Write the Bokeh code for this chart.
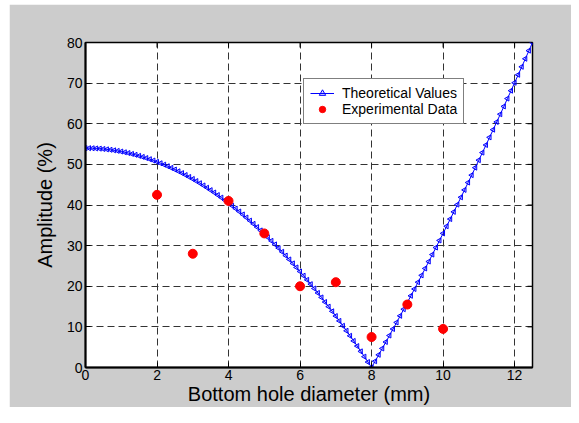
import numpy as np
from bokeh.plotting import figure
from bokeh.models import Range1d, FixedTicker, Legend, LegendItem, Spacer
from bokeh.layouts import column, row
from bokeh.embed import file_html
from bokeh.resources import INLINE

# Theoretical curve, sampled every 0.1 mm from 0 to 12.5 mm
theory_x = np.round(np.arange(0, 126) * 0.1, 1).tolist()
theory_y = [
    54.00, 53.99, 53.97, 53.92, 53.87, 53.79, 53.70, 53.59, 53.46, 53.32,
    53.16, 52.98, 52.79, 52.57, 52.35, 52.10, 51.84, 51.56, 51.27, 50.95,
    50.63, 50.28, 49.92, 49.54, 49.14, 48.73, 48.30, 47.85, 47.38, 46.90,
    46.41, 45.89, 45.36, 44.81, 44.25, 43.66, 43.07, 42.45, 41.82, 41.17,
    40.50, 39.82, 39.12, 38.40, 37.67, 36.91, 36.15, 35.36, 34.56, 33.74,
    32.91, 32.05, 31.18, 30.30, 29.40, 28.48, 27.54, 26.59, 25.62, 24.63,
    23.63, 22.60, 21.57, 20.51, 19.44, 18.35, 17.25, 16.12, 14.98, 13.83,
    12.66, 11.47, 10.26, 9.04, 7.80, 6.54, 5.27, 3.97, 2.67, 1.34,
    0.00, 1.55, 3.12, 4.69, 6.28, 7.87, 9.48, 11.09, 12.72, 14.35,
    16.00, 17.65, 19.32, 21.00, 22.68, 24.38, 26.08, 27.80, 29.53, 31.27,
    33.01, 34.77, 36.54, 38.31, 40.10, 41.90, 43.71, 45.53, 47.35, 49.19,
    51.04, 52.90, 54.77, 56.65, 58.54, 60.44, 62.35, 64.27, 66.20, 68.14,
    70.09, 72.05, 74.02, 76.00, 77.99, 80.00,
]

# Experimental data
exp_x = [2, 3, 4, 5, 6, 7, 8, 9, 10]
exp_y = [42.5, 28.0, 41.0, 33.0, 20.0, 21.0, 7.5, 15.5, 9.5]

x_ticks = [0, 2, 4, 6, 8, 10, 12]
y_ticks = [0, 10, 20, 30, 40, 50, 60, 70, 80]
X_MAX, Y_MAX = 12.5, 80

FONT = "Liberation Sans"
W, H = 562, 403

p = figure(width=W, height=H, output_backend="svg", toolbar_location=None,
           x_range=Range1d(0, X_MAX), y_range=Range1d(0, Y_MAX),
           min_border_left=76, min_border_top=38, min_border_right=39, min_border_bottom=32,
           border_fill_color="#cccccc", background_fill_color="white",
           outline_line_color="black", outline_line_width=1.5)

p.xaxis.axis_label = "Bottom hole diameter (mm)"
p.yaxis.axis_label = "Amplitude (%)"

for ax in [p.xaxis[0], p.yaxis[0]]:
    ax.axis_label_text_font = FONT
    ax.axis_label_text_font_size = "20px"
    ax.axis_label_text_font_style = "normal"
    ax.axis_label_text_color = "black"
    ax.major_label_text_font = FONT
    ax.major_label_text_font_size = "14px"
    ax.major_label_text_color = "black"
    ax.axis_line_color = "black"
    ax.axis_line_width = 2
    ax.major_tick_in = 5
    ax.major_tick_out = 0
    ax.minor_tick_line_color = None
    ax.major_tick_line_color = "black"

p.xaxis.ticker = FixedTicker(ticks=x_ticks)
p.yaxis.ticker = FixedTicker(ticks=y_ticks)
p.xaxis.major_label_standoff = 2
p.xaxis.axis_label_standoff = 0
p.yaxis.major_label_standoff = 3
p.yaxis.axis_label_standoff = 8

p.xgrid.ticker = FixedTicker(ticks=x_ticks)
p.ygrid.ticker = FixedTicker(ticks=y_ticks)
for g in [p.xgrid[0], p.ygrid[0]]:
    g.grid_line_color = "#333333"
    g.grid_line_dash = "7 4"
    g.grid_line_width = 1

# inward ticks on the top and right edges of the box (clipped to the frame)
p.scatter(x_ticks, [Y_MAX] * len(x_ticks), marker="dash", angle=np.pi / 2, size=10,
          line_color="black", line_width=1)
p.scatter([X_MAX] * len(y_ticks), y_ticks, marker="dash", size=10,
          line_color="black", line_width=1)

ln = p.line(theory_x, theory_y, line_color="#0000ff", line_width=1)
mk = p.scatter(theory_x, theory_y, marker="triangle", angle=np.pi / 2, size=5,
               line_color="#0000ff", fill_color="#0000ff", fill_alpha=0.15, line_width=1)
ex = p.scatter(exp_x, exp_y, marker="circle", size=9, line_color="#ff0000",
               fill_color="#ff0000")

legend = Legend(items=[LegendItem(label="Theoretical Values", renderers=[ln, mk]),
                       LegendItem(label="Experimental Data", renderers=[ex])],
                location=(218, 243), label_text_font=FONT, label_text_font_size="14px",
                label_text_color="black", border_line_color="black", border_line_width=1,
                background_fill_color="white", background_fill_alpha=1,
                padding=6, spacing=0, margin=0, glyph_width=24, glyph_height=16,
                label_height=16, label_standoff=8)
p.add_layout(legend, "center")

layout = column(Spacer(height=4), row(Spacer(width=9), p))
open("out.html", "w").write(file_html(layout, INLINE))
